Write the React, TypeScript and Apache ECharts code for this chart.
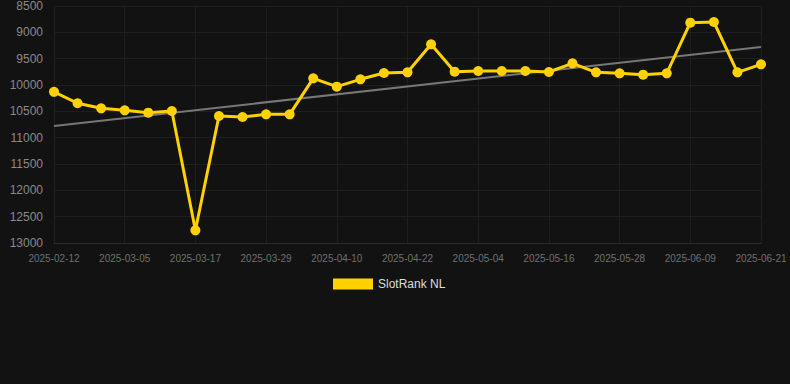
import React, { useEffect, useRef } from "react";
import * as echarts from "echarts";

const dates: string[] = [
  "2025-02-12", "2025-02-19", "2025-02-26", "2025-03-05", "2025-03-09", "2025-03-13",
  "2025-03-17", "2025-03-21", "2025-03-25", "2025-03-29", "2025-04-02", "2025-04-06",
  "2025-04-10", "2025-04-14", "2025-04-18", "2025-04-22", "2025-04-26", "2025-04-30",
  "2025-05-04", "2025-05-08", "2025-05-12", "2025-05-16", "2025-05-20", "2025-05-24",
  "2025-05-28", "2025-06-01", "2025-06-05", "2025-06-09", "2025-06-13", "2025-06-17",
  "2025-06-21",
];

const rankValues: number[] = [
  10130, 10347, 10443, 10481, 10525, 10493, 12759, 10588, 10607, 10557, 10557,
  9873, 10032, 9892, 9772, 9759, 9228, 9747, 9734, 9734, 9734, 9753, 9588, 9759,
  9778, 9804, 9778, 8817, 8804, 9759, 9607,
];

const trendStart = 10778;
const trendEnd = 9278;

const seriesName = "SlotRank NL";

export default function App() {
  const ref = useRef<HTMLDivElement>(null);

  useEffect(() => {
    if (!ref.current) return;
    const chart = echarts.init(ref.current, undefined, { renderer: "svg" });
    const trendData = dates.map((_, i) =>
      i === 0 ? trendStart : i === dates.length - 1 ? trendEnd : null
    );
    const font = "'Liberation Sans', Arial, sans-serif";
    chart.setOption({
      animation: false,
      backgroundColor: "#121212",
      textStyle: { fontFamily: font },
      grid: { left: 54, right: 29, top: 6, bottom: 141, containLabel: false },
      legend: {
        data: [seriesName],
        top: 273,
        left: 328,
        icon: "rect",
        itemWidth: 40,
        itemHeight: 11,
        itemGap: 10,
        textStyle: { color: "#dddddd", fontSize: 12, fontFamily: font },
      },
      xAxis: {
        type: "category",
        data: dates,
        boundaryGap: false,
        axisLine: { show: true, lineStyle: { color: "#2c2c2c" } },
        axisTick: { show: false },
        axisLabel: { interval: 2, color: "#707070", fontSize: 10, margin: 10, fontFamily: font },
        splitLine: { show: true, interval: 2, lineStyle: { color: "#1e1e1e" } },
      },
      yAxis: {
        type: "value",
        inverse: true,
        min: 8500,
        max: 13000,
        interval: 500,
        axisLine: { show: false },
        axisTick: { show: false },
        axisLabel: {
          color: "#8a8a8a",
          fontSize: 12,
          margin: 11,
          fontFamily: font,
          formatter: (v: number) => String(v),
        },
        splitLine: { show: true, lineStyle: { color: "#1e1e1e" } },
      },
      series: [
        {
          name: "Trend",
          type: "line",
          data: trendData,
          connectNulls: true,
          showSymbol: false,
          symbol: "none",
          lineStyle: { color: "#777777", width: 2 },
          itemStyle: { color: "#777777" },
          z: 1,
        },
        {
          name: seriesName,
          type: "line",
          data: rankValues,
          symbol: "circle",
          symbolSize: 10,
          showSymbol: true,
          lineStyle: { color: "#FFD100", width: 3 },
          itemStyle: { color: "#FFD100" },
          z: 2,
        },
      ],
    });
    return () => chart.dispose();
  }, []);

  return (
    <div
      ref={ref}
      style={{ position: "fixed", left: 0, top: 0, width: 790, height: 384 }}
    />
  );
}
